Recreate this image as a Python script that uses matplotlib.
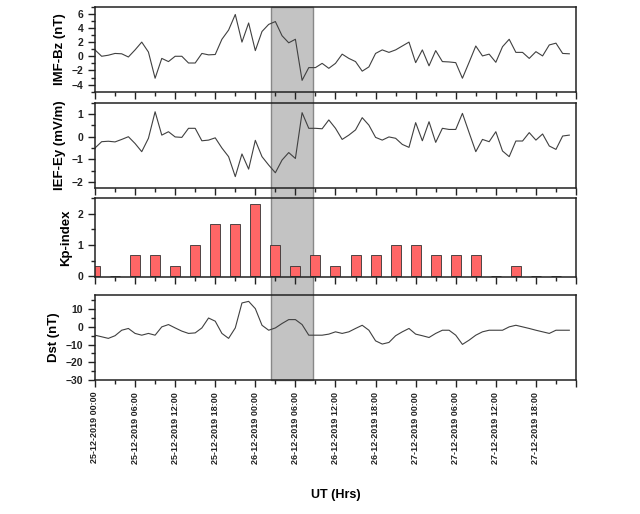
import numpy as np
import matplotlib
matplotlib.use('Agg')
import matplotlib.pyplot as plt
from matplotlib.patches import Rectangle
from matplotlib.ticker import MultipleLocator
import matplotlib.transforms as mtransforms

plt.rcParams['font.family'] = ['Liberation Sans', 'DejaVu Sans']
plt.rcParams['font.weight'] = 'bold'
plt.rcParams['axes.labelweight'] = 'bold'

# --------------------------- data --------------------------------
ut_hours = list(range(72))

imf_bz = [0.9, 0.0, 0.15, 0.4, 0.35, -0.1, 0.9, 2.0, 0.6, -3.1,
          -0.3, -0.75, 0.0, 0.0, -0.95, -0.95, 0.4, 0.2, 0.25, 2.4,
          3.7, 5.9, 2.0, 4.7, 0.8, 3.5, 4.5, 4.9, 2.9, 1.9,
          2.4, -3.4, -1.6, -1.6, -1.0, -1.7, -1.0, 0.3, -0.3, -0.75,
          -2.1, -1.5, 0.4, 0.9, 0.55, 0.9, 1.45, 2.0, -0.9, 0.9,
          -1.35, 0.8, -0.75, -0.8, -0.9, -3.1, -0.85, 1.45, 0.05, 0.3,
          -0.85, 1.35, 2.4, 0.55, 0.55, -0.3, 0.65, 0.05, 1.6, 1.85,
          0.4, 0.35]

ief_ey = [-0.5, -0.22, -0.2, -0.23, -0.12, 0.0, -0.3, -0.66, -0.07, 1.1,
          0.07, 0.22, -0.01, -0.03, 0.37, 0.37, -0.18, -0.15, -0.05, -0.5,
          -0.88, -1.76, -0.76, -1.43, -0.16, -0.88, -1.25, -1.59, -1.03, -0.7,
          -0.96, 1.06, 0.37, 0.37, 0.35, 0.74, 0.37, -0.12, 0.07, 0.3,
          0.84, 0.51, -0.03, -0.15, -0.01, -0.07, -0.34, -0.47, 0.62, -0.18,
          0.66, -0.25, 0.37, 0.32, 0.32, 1.03, 0.18, -0.66, -0.12, -0.22,
          0.22, -0.63, -0.88, -0.19, -0.19, 0.18, -0.15, 0.12, -0.41, -0.56,
          0.03, 0.07]

kp_hours = [0, 3, 6, 9, 12, 15, 18, 21, 24, 27, 30, 33,
            36, 39, 42, 45, 48, 51, 54, 57, 60, 63, 66, 69]
kp_index = [0.33, 0.0, 0.67, 0.67, 0.33, 1.0, 1.67, 1.67, 2.33, 1.0, 0.33, 0.67,
            0.33, 0.67, 0.67, 1.0, 1.0, 0.67, 0.67, 0.67, 0.0, 0.33, 0.0, 0.0]

dst = [-4.7, -5.6, -6.5, -5, -1.9, -0.9, -3.7, -4.7, -3.7, -4.7,
       0, 1.3, -0.6, -2.4, -3.7, -3.4, -0.6, 5.0, 3.2, -3.7,
       -6.5, -0.6, 13.5, 14.4, 10.3, 0.9, -1.9, -0.6, 1.9, 4.1,
       4.1, 1.3, -4.7, -4.7, -4.7, -4.1, -2.8, -3.7, -2.8, -0.9,
       0.9, -1.9, -7.9, -9.7, -8.8, -5, -2.8, -0.9, -4.1, -5,
       -6, -3.7, -1.9, -1.9, -4.7, -9.9, -7.5, -4.7, -2.8, -1.9,
       -1.9, -1.9, 0, 0.9, 0, -0.9, -1.9, -2.8, -3.7, -1.9,
       -1.9, -1.9]

tick_hours = [0, 6, 12, 18, 24, 30, 36, 42, 48, 54, 60, 66, 72]
tick_labels = ['25-12-2019 00:00', '25-12-2019 06:00', '25-12-2019 12:00',
               '25-12-2019 18:00', '26-12-2019 00:00', '26-12-2019 06:00',
               '26-12-2019 12:00', '26-12-2019 18:00', '27-12-2019 00:00',
               '27-12-2019 06:00', '27-12-2019 12:00', '27-12-2019 18:00', '']

shade_start, shade_end = 26.3, 32.6

# --------------------------- figure --------------------------------
fig = plt.figure(figsize=(6.4, 5.14), dpi=100)

left, width = 0.1484, 0.7516
ax1 = fig.add_axes([left, 0.8216, width, 0.1654])
ax2 = fig.add_axes([left, 0.6348, width, 0.1654])
ax3 = fig.add_axes([left, 0.4617, width, 0.1525])
ax4 = fig.add_axes([left, 0.2607, width, 0.1654])
axes = [ax1, ax2, ax3, ax4]

line_col = '#404040'
ax1.plot(ut_hours, imf_bz, color=line_col, lw=0.8)
ax2.plot(ut_hours, ief_ey, color=line_col, lw=0.8)
ax3.bar(kp_hours, kp_index, width=1.5, color='#ff6666', edgecolor='#333333', lw=0.6)
ax4.plot(ut_hours, dst, color=line_col, lw=0.8)

ax1.set_ylim(-5, 7)
ax1.yaxis.set_major_locator(MultipleLocator(2))
ax1.yaxis.set_minor_locator(MultipleLocator(1))
ax1.set_ylabel('IMF-Bz (nT)', fontsize=9.5)

ax2.set_ylim(-2.25, 1.5)
ax2.yaxis.set_major_locator(MultipleLocator(1))
ax2.yaxis.set_minor_locator(MultipleLocator(0.5))
ax2.set_ylabel('IEF-Ey (mV/m)', fontsize=9.5)

ax3.set_ylim(-0.02, 2.5)
ax3.set_yticks([0, 1, 2])
ax3.yaxis.set_minor_locator(MultipleLocator(0.5))
ax3.set_ylabel('Kp-index', fontsize=9.5)

ax4.set_ylim(-30, 18)
ax4.yaxis.set_major_locator(MultipleLocator(10))
ax4.yaxis.set_minor_locator(MultipleLocator(5))
ax4.set_ylabel('Dst (nT)', fontsize=9.5)

for ax in axes:
    ax.set_xlim(0, 72)
    ax.set_xticks(tick_hours)
    ax.xaxis.set_minor_locator(MultipleLocator(3))
    ax.patch.set_alpha(0)
    ax.tick_params(which='major', direction='out', length=5, width=1, labelsize=7.5, colors='#222222')
    ax.tick_params(which='minor', direction='out', length=3, width=1, colors='#222222')
    ax.tick_params(axis='x', labelbottom=False)
    for s in ax.spines.values():
        s.set_linewidth(1.1)
        s.set_color('#222222')

ax4.set_xticklabels(tick_labels, rotation=90, fontsize=6.5)
ax4.tick_params(axis='x', labelbottom=True)
ax4.set_xlabel('UT (Hrs)', fontsize=9, labelpad=18)

# shaded interval spanning all panels
trans = mtransforms.blended_transform_factory(ax4.transData, fig.transFigure)
y_bot = 0.2607
y_top = 0.8216 + 0.1654
fig.add_artist(Rectangle((shade_start, y_bot), shade_end - shade_start, y_top - y_bot,
                         transform=trans, facecolor='#c3c3c3', edgecolor='#888888',
                         lw=1.0, zorder=-1))

plt.savefig('out.png', dpi=100)
plt.close()
